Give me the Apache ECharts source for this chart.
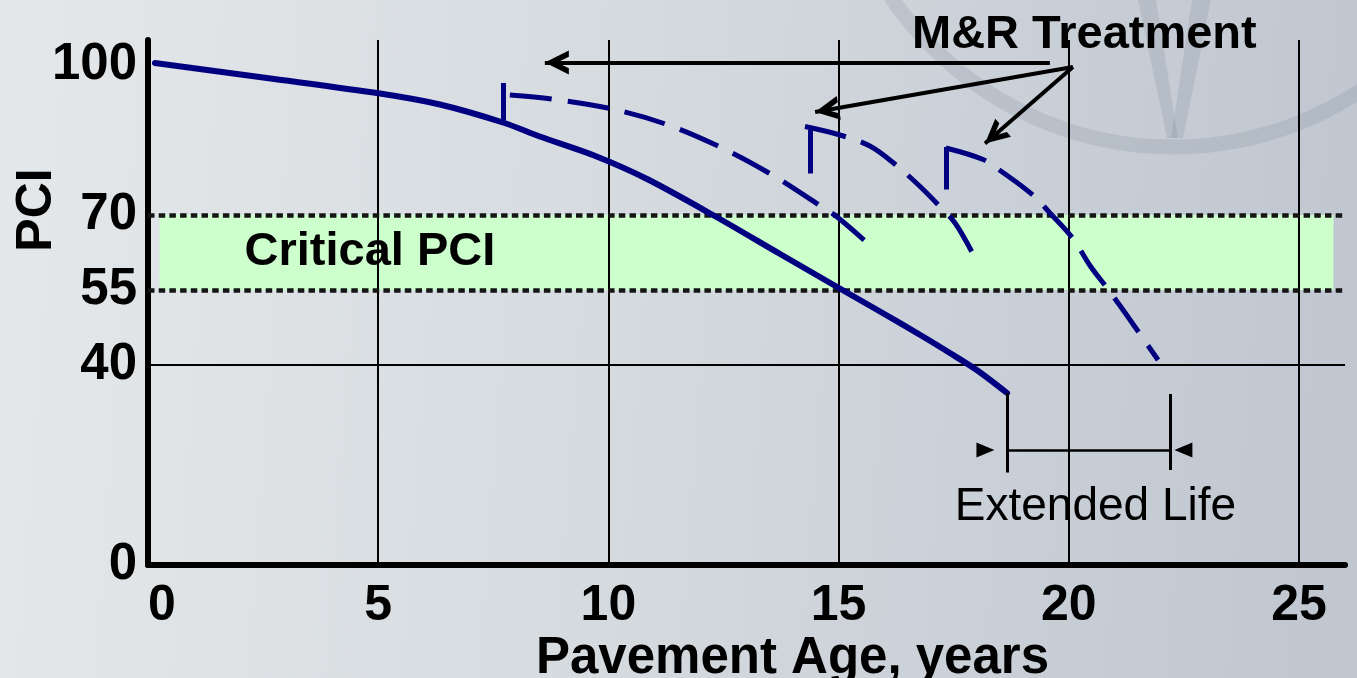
<!DOCTYPE html>
<html>
<head>
<meta charset="utf-8">
<title>Pavement Condition vs Age</title>
<script src="https://cdn.jsdelivr.net/npm/echarts@6/dist/echarts.min.js"></script>
<style>
  html, body { margin: 0; padding: 0; }
  #chart { width: 1357px; height: 678px; }
</style>
</head>
<body>
<div id="chart"></div>
<script>
// ---- data -------------------------------------------------------------
// Axis ticks
const ageTicks = [0, 5, 10, 15, 20, 25];
const pciTicks = [0, 40, 55, 70, 100];

// Critical PCI range and the reference PCI line
const criticalPci = [55, 70];
const referencePci = 40;

// Deterioration without treatment: [age, PCI]
const baseCurve = [
  [0.15, 100.4], [2.58, 97.4], [5.04, 94.3], [6.34, 92.1], [7.71, 88.5],
  [8.51, 85.7], [9.69, 81.9], [10.84, 77.2], [12.27, 70.0], [13.73, 62.2],
  [14.97, 55.6], [15.90, 50.7], [16.83, 45.7], [17.40, 42.5], [18.00, 39.0],
  [18.66, 34.4]
];

// Deterioration after each M&R treatment: [age, PCI]
const treatment1 = [
  [7.86, 94.0], [8.77, 93.2], [10.03, 91.3], [11.27, 88.1], [12.47, 83.4],
  [13.58, 77.9], [14.66, 71.5], [14.97, 69.6], [15.70, 63.8]
];
const treatment2 = [
  [14.27, 87.7], [15.03, 86.0], [15.68, 83.8], [16.22, 80.2], [16.77, 75.7],
  [17.20, 71.7], [17.53, 68.4], [17.92, 62.2]
];
const treatment3 = [
  [17.33, 83.4], [18.14, 81.1], [18.51, 78.9], [19.22, 74.0], [19.59, 70.4],
  [20.09, 65.3], [20.46, 59.9], [20.83, 55.4], [21.11, 51.9], [21.44, 47.6],
  [21.94, 41.0]
];

// PCI jump at each treatment: [age, PCI before, PCI after]
const treatmentJumps = [
  [7.71, 88.9, 96.4],
  [14.38, 78.3, 87.0],
  [17.33, 75.1, 83.6]
];

// "M&R Treatment" call-out arrows: tails and tips as [age, PCI]
const arrowTails = [[19.59, 100.5], [20.09, 99.6], [20.09, 99.6]];
const arrowTips = [[8.62, 100.5], [14.49, 90.6], [18.18, 84.3]];

// Extended service life: from end of untreated life to end of treated life (years)
const extendedLife = [18.66, 22.2];

// ---- styling ----------------------------------------------------------
const FONT = '"Liberation Sans", Arial, Helvetica, sans-serif';
const NAVY = '#000080';
const WATERMARK = 'rgba(95, 105, 128, 0.15)';
// open chevron arrowhead; the leading moveTo keeps the tip at the centre of
// the symbol box so the tip sits exactly on the line end
const CHEVRON = 'path://M12,0 M0,48 L12,24 L24,48 L17.8,48 L12,36.3 L6.2,48 Z';

const chart = echarts.init(document.getElementById('chart'), null, { renderer: 'canvas' });

function dashedTreatment(name, data, jump) {
  return {
    name: name,
    type: 'line',
    data: data,
    z: 3,
    smooth: 0.35,
    symbol: 'none',
    silent: true,
    lineStyle: { color: NAVY, width: 5, type: [42, 16], cap: 'butt' },
    markLine: {
      silent: true,
      symbol: 'none',
      z: 3,
      label: { show: false },
      lineStyle: { color: NAVY, width: 5, type: 'solid' },
      data: [[{ coord: [jump[0], jump[1]] }, { coord: [jump[0], jump[2]] }]]
    }
  };
}

// vertical placement of the extended-life bracket (PCI units)
const bracketTop = 34.4, bracketBottom = 18.5, bracketMid = 23, bracketText = 11.5;

const option = {
  animation: false,
  backgroundColor: new echarts.graphic.LinearGradient(0, 0, 1, 0.15, [
    { offset: 0, color: '#e4e8eb' },
    { offset: 0.45, color: '#d6dbdf' },
    { offset: 1, color: '#c0c7d1' }
  ]),
  textStyle: { fontFamily: FONT },
  grid: { left: 148, right: 12, top: 40, bottom: 113, containLabel: false, outerBoundsMode: 'none' },
  xAxis: {
    type: 'value',
    min: 0,
    max: 26,
    interval: 5,
    z: 2,
    axisLine: { show: true, onZero: false, lineStyle: { color: '#000', width: 6 } },
    axisTick: { show: false },
    splitLine: { show: true, showMinLine: false, showMaxLine: false, lineStyle: { color: '#000', width: 2 } },
    axisLabel: {
      customValues: ageTicks,
      fontFamily: FONT, fontSize: 50, fontWeight: 'bold', color: '#000',
      margin: 16, alignMinLabel: 'left'
    },
    name: 'Pavement Age, years',
    nameLocation: 'middle',
    nameGap: 68,
    nameMoveOverlap: false,
    nameTextStyle: { fontFamily: FONT, fontSize: 51, fontWeight: 'bold', color: '#000', padding: [0, 0, 0, 92] }
  },
  yAxis: {
    type: 'value',
    min: 0,
    max: 105,
    interval: 5,
    axisLine: { show: true, lineStyle: { color: '#000', width: 6 } },
    axisTick: { show: false },
    splitLine: { show: false },
    axisLabel: {
      customValues: pciTicks,
      fontFamily: FONT, fontSize: 51, fontWeight: 'bold', color: '#000', margin: 11
    }
  },
  graphic: [
    // faint emblem in the upper right
    { type: 'circle', z: -1, silent: true, shape: { cx: 1173, cy: -193, r: 340 },
      style: { fill: 'none', stroke: WATERMARK, lineWidth: 15 } },
    { type: 'polygon', z: -1, silent: true,
      shape: { points: [[1138, 0], [1156, 0], [1178, 138], [1167, 138]] }, style: { fill: WATERMARK } },
    { type: 'polygon', z: -1, silent: true,
      shape: { points: [[1192, 0], [1211, 0], [1183, 138], [1171, 138]] }, style: { fill: WATERMARK } },
    { type: 'text', z: 10, x: 912, y: 35,
      style: { text: 'M&R Treatment', font: 'bold 47px ' + FONT, fill: '#000', verticalAlign: 'middle' } },
    { type: 'text', z: 10, x: 37, y: 210, rotation: Math.PI / 2,
      style: { text: 'PCI', font: 'bold 50px ' + FONT, fill: '#000', align: 'center', verticalAlign: 'middle' } }
  ],
  series: [
    {
      name: 'Do nothing',
      type: 'line',
      data: baseCurve,
      z: 3,
      smooth: 0.3,
      symbol: 'none',
      silent: true,
      lineStyle: { color: NAVY, width: 6, cap: 'round' },
      markArea: {
        silent: true,
        itemStyle: { color: '#ccffcc' },
        label: {
          show: true, position: 'insideLeft', distance: 85,
          formatter: 'Critical PCI',
          fontFamily: FONT, fontSize: 47, fontWeight: 'bold', color: '#000'
        },
        data: [[{ coord: [0.25, criticalPci[0]] }, { coord: [25.75, criticalPci[1]] }]]
      },
      markLine: {
        silent: true,
        symbol: 'none',
        z: 2.5,
        label: { show: false },
        data: [
          { yAxis: referencePci, lineStyle: { color: '#000', width: 2, type: 'solid' } },
          { yAxis: criticalPci[0], lineStyle: { color: '#151515', width: 4.5, type: [6.5, 4.2] } },
          { yAxis: criticalPci[1], lineStyle: { color: '#151515', width: 4.5, type: [6.5, 4.2] } }
        ]
      }
    },
    dashedTreatment('Treatment 1', treatment1, treatmentJumps[0]),
    dashedTreatment('Treatment 2', treatment2, treatmentJumps[1]),
    dashedTreatment('Treatment 3', treatment3, treatmentJumps[2]),
    {
      name: 'M&R Treatment',
      type: 'line',
      data: [arrowTails[1]],
      symbol: 'none',
      silent: true,
      lineStyle: { width: 0 },
      z: 4,
      markLine: {
        silent: true,
        z: 4,
        label: { show: false },
        lineStyle: { color: '#000', width: 4, type: 'solid' },
        data: arrowTails.map((tail, i) => [
          { coord: tail, symbol: 'none' },
          { coord: arrowTips[i], symbol: CHEVRON, symbolSize: [24, 48] }
        ])
      }
    },
    {
      name: 'Extended Life',
      type: 'scatter',
      z: 4,
      silent: true,
      symbol: 'triangle',
      symbolSize: [15, 18],
      itemStyle: { color: '#000', opacity: 1 },
      emphasis: { disabled: true },
      data: [
        { value: [extendedLife[0] - 0.47, bracketMid], symbolRotate: -90 },
        { value: [extendedLife[1] + 0.29, bracketMid], symbolRotate: 90 },
        {
          value: [(extendedLife[0] + extendedLife[1]) / 2 + 0.15, bracketText],
          symbolSize: 0,
          label: {
            show: true, position: 'inside', formatter: 'Extended Life',
            fontFamily: FONT, fontSize: 46, fontWeight: 'normal', color: '#000', opacity: 1
          }
        }
      ],
      markLine: {
        silent: true,
        symbol: 'none',
        z: 4,
        label: { show: false },
        lineStyle: { color: '#000', type: 'solid' },
        data: [
          [{ coord: [extendedLife[0], bracketTop], lineStyle: { width: 3 } }, { coord: [extendedLife[0], bracketBottom] }],
          [{ coord: [extendedLife[1], bracketTop - 0.2], lineStyle: { width: 3 } }, { coord: [extendedLife[1], bracketBottom + 0.5] }],
          [{ coord: [extendedLife[0], bracketMid], lineStyle: { width: 2.5 } }, { coord: [extendedLife[1], bracketMid] }]
        ]
      }
    }
  ]
};

chart.setOption(option);
</script>
</body>
</html>
